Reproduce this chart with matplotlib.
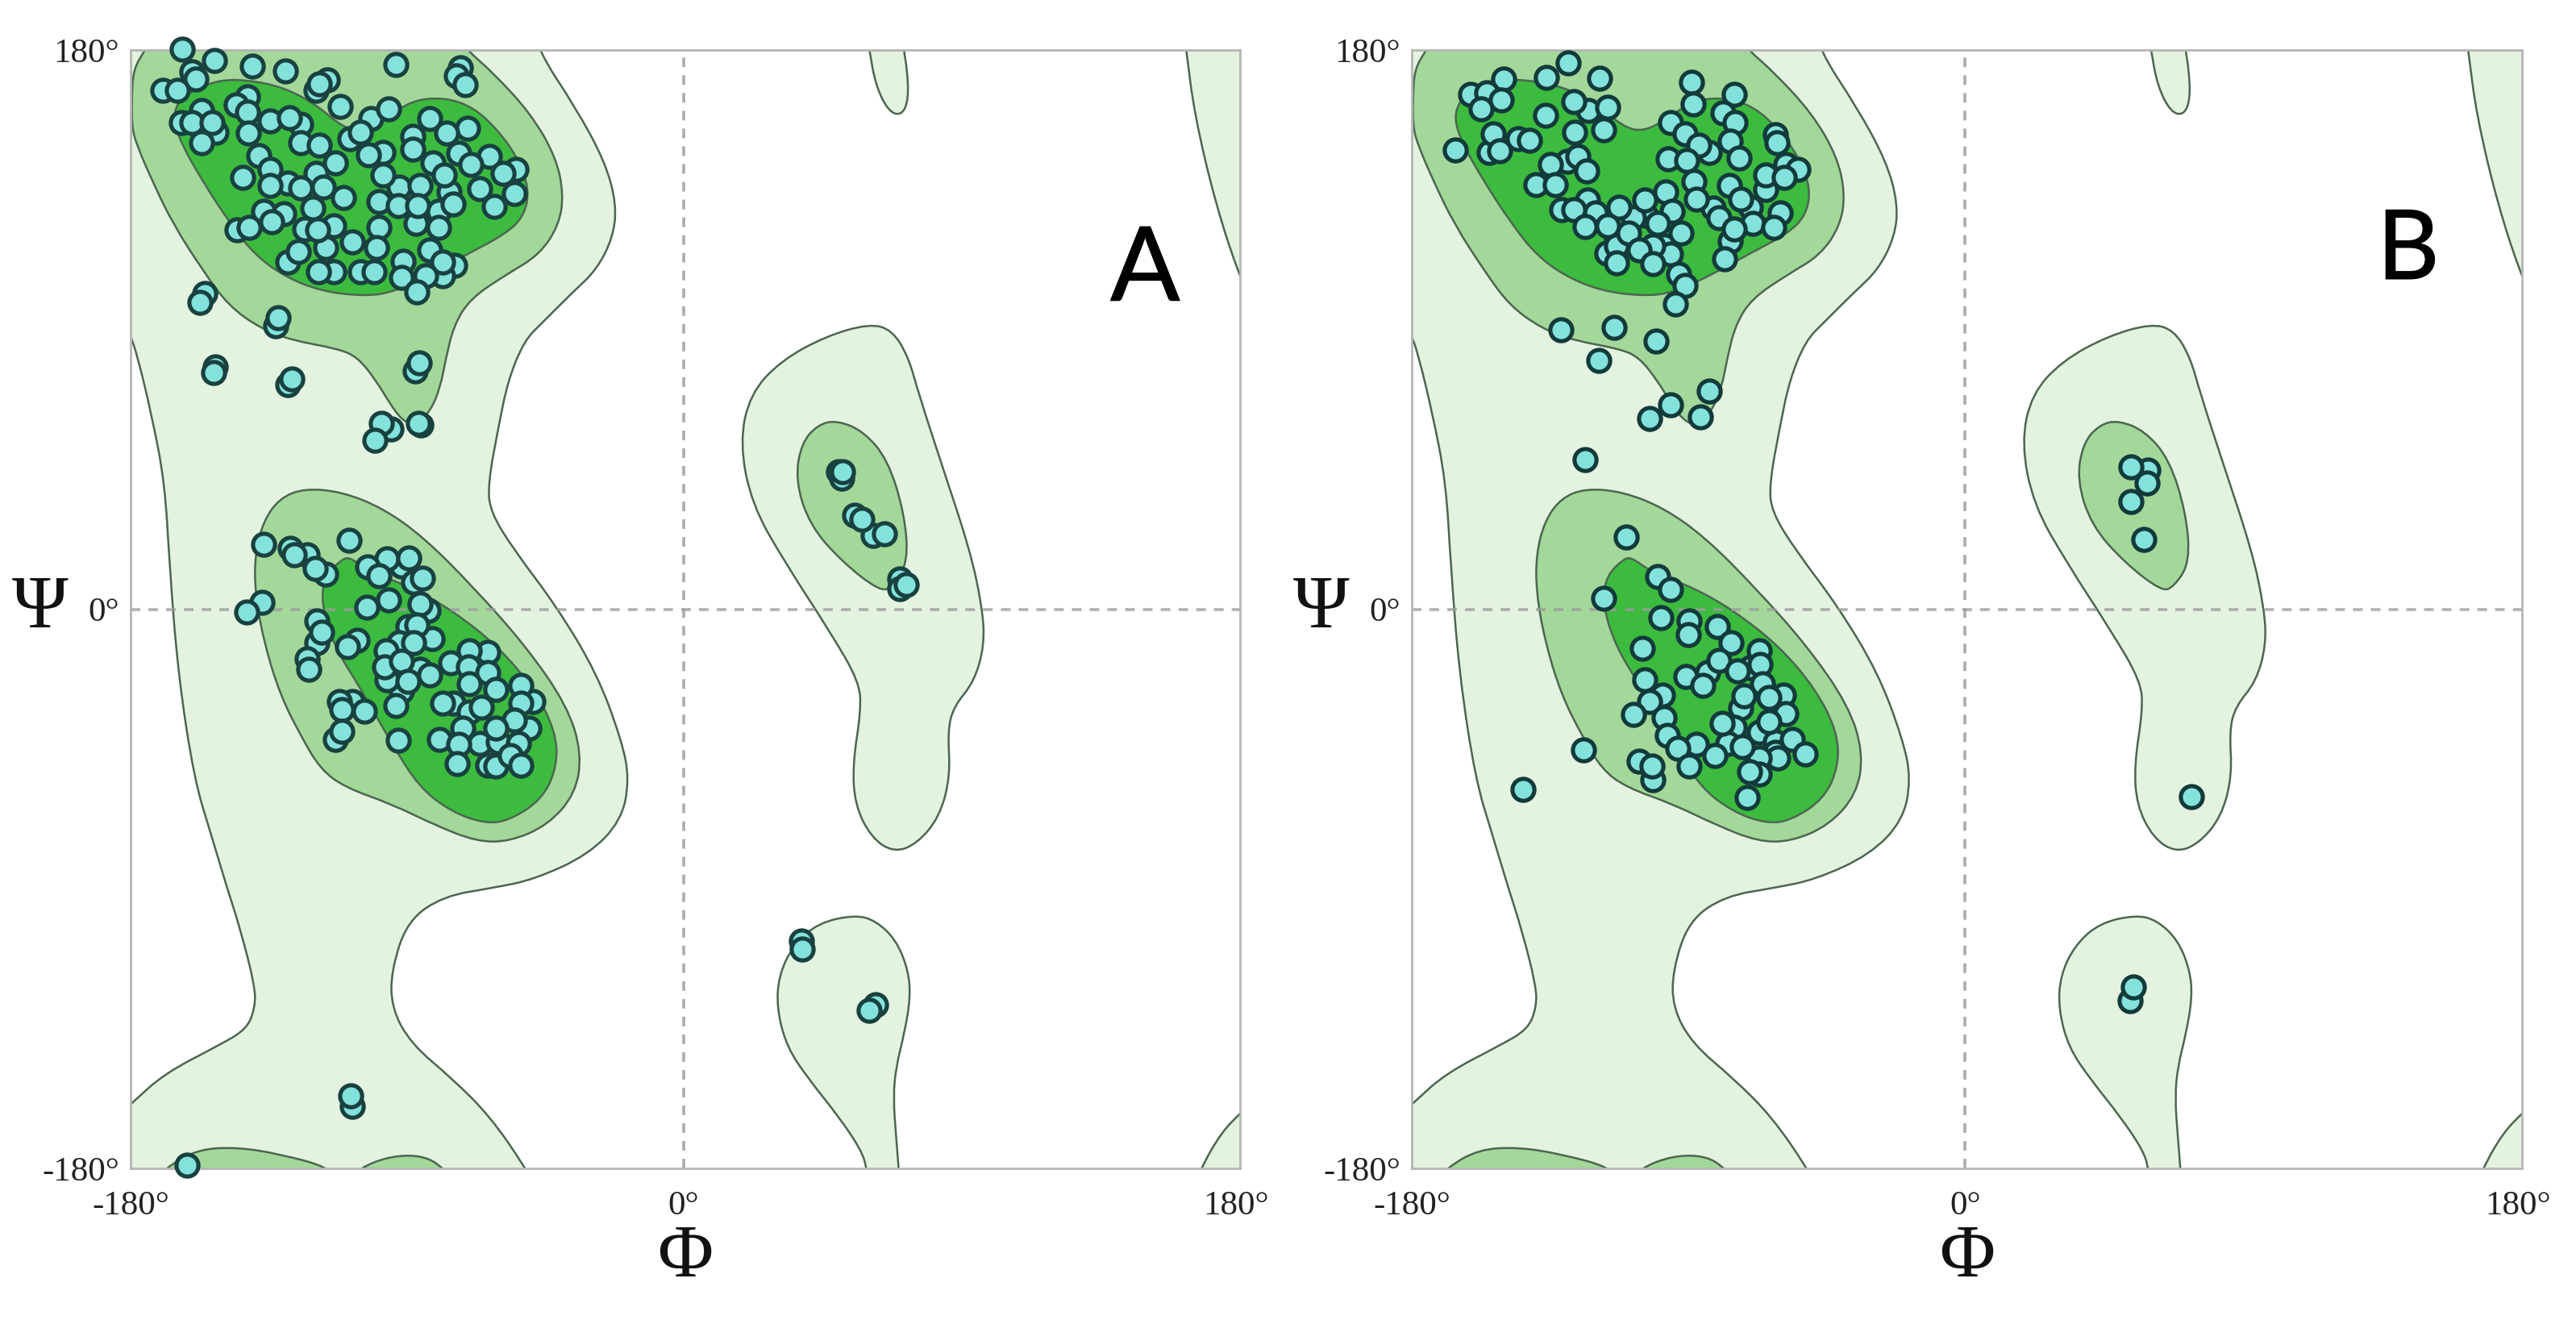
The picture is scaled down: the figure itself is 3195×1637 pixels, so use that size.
import numpy as np
import matplotlib
matplotlib.use("Agg")
import matplotlib.pyplot as plt
import matplotlib.patheffects as pe
from matplotlib.path import Path
from matplotlib.patches import PathPatch

# Ramachandran background contours, phi/psi in degrees (same in both panels)
allowed_main = [[-195,195],[-51,195],[-47.5,180],[-35.2,161.6],[-25.6,144.2],[-21.8,130.4],[-22.9,119.8],
    [-28.3,109.2],[-36.3,101.8],[-45.9,92.3],[-51.8,86.5],[-57.1,73.8],[-60.4,57.9],[-63.6,40.5],[-63,31.5],
    [-55,18.8],[-41.6,1.3],[-28.3,-20.4],[-20.2,-42],[-17.6,-54.7],[-20.2,-68],[-30.9,-79],[-48.6,-87],
    [-62,-89.7],[-78,-92.3],[-89.8,-100.2],[-95.1,-116.1],[-95.1,-128.3],[-88.7,-139.9],[-75.4,-151],
    [-63,-163.2],[-51.3,-180],[-48,-187],[-48,-195],[-195,-195],[-195,-170],[-185,-164],[-179.6,-159],
    [-168.9,-149.4],[-151.3,-140.4],[-142.2,-135.2],[-139.5,-128.3],[-139.5,-121.4],[-144.3,-102.9],
    [-148.6,-89.7],[-153.9,-72.2],[-159.3,-54.7],[-164.6,-20.4],[-167.3,14],[-168.9,41],[-173.2,62.7],
    [-177.7,81.2],[-180.2,88.6],[-183.9,95.5],[-195,105]]
allowed_mid = [[60.5,91.9],[67.9,89.9],[73.2,81.3],[76.6,69.3],[84,46.8],[93.3,19],[97.3,0.5],[98,-11.4],
    [94.7,-23.3],[88,-31.3],[86,-39.2],[86.9,-53.8],[83.3,-67],[75.9,-75.6],[68.5,-78.3],[61.2,-73.6],
    [55.8,-63],[55.1,-49.8],[57.8,-32.6],[57.2,-23.3],[47.8,-7.4],[33,15.1],[22.3,33.6],[18.3,53.5],
    [21.7,69.3],[31.7,80],[46.4,87.9]]
allowed_low = [[55.8,-98.4],[62.5,-100.2],[69.2,-106.4],[73.2,-116.2],[73.9,-125.1],[71.9,-136.6],[69.2,-147.3],
    [68.3,-157.1],[69.2,-169.5],[70.1,-180.2],[70.5,-189],[59.8,-189],[59.8,-180.2],[57.8,-174],[50.5,-163.3],
    [41.1,-151.7],[33.7,-141.1],[30.4,-128.6],[31,-118],[35.7,-108.2],[43.8,-101]]
allowed_island = [[59.4,188],[60.5,180],[62.6,168.5],[66.9,160],[71.2,159],[73.3,164.3],[72.8,173.8],[71.7,180],[71.2,188]]
allowed_topright = [[162.6,188],[163.7,180],[166.4,159],[173.4,129.9],[181.4,106],[186.7,95.5],[195,95],[195,195],[162,195]]
allowed_lowright = [[165,-190],[168.3,-180.2],[175,-168.6],[181.5,-162],[188,-156],[188,-190]]
favoured_upper = [[-171.6,195],[-171.6,186.5],[-175.3,180],[-179.1,173.8],[-179.6,164.8],[-179.6,155.3],[-178,149.4],
    [-172.7,137.3],[-166.2,124],[-156.6,109.2],[-148.1,97.6],[-137.4,90.2],[-127.2,86.5],[-112.8,83.9],[-106.1,81.2],
    [-99.9,73.3],[-95.7,66.4],[-91.9,61.1],[-87.6,59],[-82.3,63.8],[-79.1,71.7],[-77.5,80.1],[-74.8,91.3],[-69.4,100],
    [-57.7,107.7],[-47,114],[-40.6,123.5],[-39,133.6],[-41.6,145.7],[-49.7,159.5],[-62,172.7],[-70.5,180],[-76.9,187.5],[-76.9,195]]
favoured_lower = [[-123.5,38.9],[-111.2,37.8],[-97.8,32.5],[-84.4,23],[-68.4,7.1],[-51.3,-11.9],[-37.9,-31],[-33.1,-46.3],
    [-35.2,-59.5],[-44.3,-69.6],[-56.6,-74.8],[-67.3,-74.8],[-80.7,-69.6],[-95.1,-62.7],[-110.1,-57.4],[-118.1,-51.6],
    [-124.5,-41],[-131.5,-27.2],[-136.8,-9.8],[-139.5,5.6],[-139.5,17.7],[-136.8,28.3],[-131.5,35.7]]
favoured_mid = [[49.8,60.8],[58.5,57.4],[66.5,48.2],[71.9,31],[73.2,15.1],[67.9,7.1],[63.9,5.8],[51.8,15.1],[41.1,27],
    [36.4,41.6],[38.4,53.5],[43.8,59.4]]
favoured_bot1 = [[-172.1,-185],[-168.9,-180],[-158.2,-173.8],[-144.9,-173.2],[-131.5,-175.4],[-115.4,-179.6],[-112.2,-185]]
favoured_bot2 = [[-109,-185],[-105.8,-180],[-95.1,-175.9],[-84.4,-175.9],[-78,-180],[-74.8,-185]]
core_upper = [[-162,165.8],[-151.3,170.6],[-139.5,170.1],[-128.8,167.4],[-119.2,162.1],[-111.2,155.3],[-104.7,153.7],
    [-96.7,157.9],[-88.7,163.7],[-78,164.8],[-68.4,161.6],[-60.4,154.2],[-53.9,145.2],[-50.2,135.2],[-51.8,126.7],
    [-57.7,120.9],[-70,114.5],[-82.3,107.7],[-95.1,101.8],[-104.7,100.8],[-118.1,102.4],[-129.9,107.1],[-139.5,114],
    [-147.5,124],[-156.6,137.8],[-163.6,150],[-166.2,157.9],[-164.6,163.2]]
core_lower = [[-111.2,16.1],[-108.5,16.7],[-102.1,12],[-88.7,7.1],[-75.4,-0.3],[-60.4,-11.9],[-48.6,-25.7],[-41.6,-39.4],
    [-41.1,-50.5],[-45.9,-61.1],[-56.6,-68],[-64.6,-69],[-75.4,-65.3],[-86,-57.4],[-95.1,-43.1],[-104.7,-26.2],
    [-113.8,-11.9],[-118.1,2.4],[-116.5,10.9]]

# residues of panel A, the ones lying underneath first
a_back = [[-160.1,173.1],[-72.7,174.4],[-115.9,170.5],[-142,164.9],[-124.7,156.2],[-163.5,156.6],[-156.8,160.5],[-152.1,153.6],
    [-108.6,151.5],[-88.1,152.3],[-54.4,141.5],[-128.7,137.2],[-92.5,135.9],[-85.8,136.3],[-76.4,134.2],[-79.8,128.1],
    [-136.7,128.1],[-145.4,122],[-123.3,122.5],[-113.9,123.3],[-87.2,124.2],[-116.6,116.4],[-128.7,111.7],[-74.4,110.8],
    [-113.9,108.6],[-105.2,108.6],[-78.5,107.3],[-155.9,101.7],[-132.7,91.3],[-152.5,77.9],[-128.8,72.3],[-87.3,76.6],
    [-95.2,58],[-85.5,59.3],[-128,19.5],[-122.6,17.4],[-116.6,11.3],[-91.8,13.9],[-87.8,8.7],[-83.2,-0.4],[-119.3,-3.8],
    [-119.3,-10.7],[-89.8,-5.5],[-81.8,-9.4],[-92.5,-10.7],[-106.2,-9.9],[-122.6,-15.9],[-85.8,-19.4],[-82.5,-21.1],
    [-91.8,-26.3],[-96.5,-22.8],[-63.7,-13.8],[-49,-29.8],[-75.1,-30.2],[-78.5,-30.2],[-69.7,-33.2],[-50.3,-38.4],
    [-66.4,-43.2],[-60.4,-42.7],[-53.7,-43.2],[-63.7,-50.1],[-61,-50.5],[-107.9,-29.8],[-103.9,-32.8],[-111.9,-29.8],
    [-113.3,-41.9],[-107.9,-160],[38.4,-106.8],[62.5,-127.3],[50.5,44.2],[51.5,42.2],[55.8,30.3],[61.8,23.7],[70.5,9.8],[70.5,6.5]]
a_front = [[-163.1,180.2],[-152.8,176.7],[-140.3,174.8],[-129.6,173.3],[-93.6,175.2],[-158.8,170.7],[-169.5,167],[-164.8,167],
    [-74,171.8],[-71.1,168.8],[-119.6,167],[-118.6,169.2],[-111.7,161.8],[-101.9,157.9],[-96.1,161],[-82.5,157.9],[-70.4,154.7],
    [-77.1,153.2],[-145.5,162.4],[-142,160.1],[-134.7,157.1],[-128.4,158.1],[-160.1,156.6],[-153.4,156.6],[-156.8,150.2],
    [-141.8,153.2],[-124.7,150.2],[-118.6,149.3],[-105.2,153.6],[-88.1,148],[-97.9,147.1],[-102.6,146.3],[-138.3,146],
    [-134.7,141.5],[-143.4,138.9],[-113.3,143.7],[-119.6,140.2],[-81.5,143.7],[-73.1,146.7],[-63.1,145.8],[-69.1,143.2],
    [-58.8,140.2],[-78,139.8],[-97.9,139.8],[-134.7,136.3],[-124.7,135.5],[-117.3,135.9],[-66.4,135.4],[-55,133.7],
    [-110.6,132.4],[-99.2,131.1],[-92.8,129.8],[-86.5,129.8],[-75.1,130.3],[-61.7,129.6],[-120.6,129],[-130,127.2],
    [-134,124.6],[-141.4,122.9],[-119,122],[-99.2,122.9],[-79.8,122.9],[-107.9,118.1],[-99.9,116.4],[-82.5,115.6],
    [-125.3,115.1],[-91.2,112.1],[-78.5,111.7],[-118.9,108.6],[-100.6,108.6],[-91.9,106.9],[-83.8,107.3],[-86.9,102.1],
    [-157.5,98.7],[-132,93.9],[-152.9,76.1],[-127.5,74.2],[-86,79.2],[-98.4,59.7],[-100.4,54.5],[-86.4,59.7],
    [-136.7,20.8],[-108.9,22.1],[-126.7,17.4],[-120,13],[-96.5,16.1],[-89.4,16.5],[-102.8,13.5],[-99.2,10.9],[-84.9,10],
    [-85.8,1.8],[-95.9,2.9],[-103.2,0.7],[-137.1,2.2],[-142.1,-1],[-117.7,-7.3],[-86.9,-5.1],[-87.8,-10.7],[-109.3,-12],
    [-122,-19.4],[-96.8,-13.3],[-97.2,-18.5],[-91.8,-16.8],[-89.8,-23.3],[-93.6,-31],[-75.8,-17.2],[-69.7,-13.3],[-70,-18.5],
    [-63.7,-20.3],[-69.7,-24.1],[-61,-25.9],[-53,-24.6],[-53,-30.2],[-65.7,-31.5],[-55,-35.8],[-61,-38.4],[-71.8,-38.4],
    [-92.8,-42.3],[-79.4,-41.9],[-73.1,-43.6],[-56.4,-47.1],[-73.8,-49.7],[-53,-50.1],[-111.3,-32.4],[-111.3,-39.3],
    [-108.3,-156.6],[-161.5,-178.9],[38.7,-109.5],[60.5,-129],[51.8,44.2],[58.2,29],[65.5,24.3],[72.6,7.8]]

# residues of panel B
b_back = [[-160.8,165.7],[-122.6,160.5],[-145.4,151.5],[-61.7,152.8],[-83.1,147.1],[-154.8,147.1],[-129.3,144.1],[-58.4,143.2],
    [-64.8,135],[-122.9,131.6],[-131.3,128.7],[-120.2,127.7],[-81.8,129],[-69.7,129.4],[-103.9,126.8],[-107.9,125.9],
    [-69.1,124.2],[-113.3,119.4],[-97.9,116.9],[-76.4,118.6],[-116.6,114.7],[-113.3,116.9],[-95.9,114.3],[-93.2,107.8],
    [-89.8,-3.8],[-67,-13.3],[-69.7,-18.9],[-83.8,-20.3],[-98.3,-27.6],[-59,-27.6],[-73.1,-31.9],[-58.4,-33.7],[-75.1,-38],
    [-67,-39.7],[-77.1,-43.2],[-61.7,-42.7],[-61.7,-46.2],[-61,-47.9],[-67,-47.9],[-105.9,-49],[-101.6,-54.9],[-67,-53.1],
    [59.4,44.8],[53.8,-126]]
b_front = [[-129.1,175.9],[-150.1,170.7],[-136.3,171.2],[-118.9,170.9],[-88.9,169.6],[-88.5,162.7],[-75.1,165.7],[-155.7,166.2],
    [-151,164],[-157.4,161],[-127.3,163.3],[-116.2,161.7],[-136.4,159],[-95.9,156.6],[-78.7,159.7],[-74.7,156.6],[-117.5,154.2],
    [-127,153.4],[-153.4,153],[-91.2,153],[-141.6,151],[-61.3,150.2],[-86.5,149.3],[-76.4,150.6],[-151.4,147.6],[-165.9,147.7],
    [-126,145.8],[-96.5,145],[-90.5,144.5],[-73.4,145.2],[-134.9,143.1],[-123,141.1],[-54.3,141.7],[-64.8,139.8],[-58.8,138.9],
    [-139.6,136.7],[-133.3,136.7],[-88.1,137.6],[-76.7,136.5],[-97.5,134.4],[-87.4,132],[-73.1,132],[-127.3,128.7],[-104.2,131.6],
    [-112.6,129.4],[-95.2,128.1],[-60,127.7],[-99.9,124.2],[-80,125.9],[-123.7,123.1],[-116.3,123.3],[-75.1,122.5],[-62.1,122.9],
    [-92.5,121.2],[-109.5,121.2],[-101.5,116.9],[-105.9,115.6],[-113.3,111.4],[-101.5,111.2],[-78.2,112.8],[-91.2,104.1],[-94.3,98.3],
    [-131.6,90],[-114.1,90.6],[-100.6,86.3],[-119.1,80.2],[-83.2,70.3],[-95.8,65.9],[-86.1,61.9],[-102.6,61.4],[-123.6,48.2],
    [-110.3,23.3],[-99.9,10.5],[-95.9,6.4],[-117.5,3.5],[-98.9,-2.8],[-90.1,-8.1],[-80.5,-5.7],[-76.2,-10.7],[-105,-12.6],
    [-66.8,-17.7],[-80,-16.6],[-74,-19.8],[-90.9,-21.7],[-85.4,-24.4],[-104.2,-22.8],[-66,-24.1],[-102.6,-29.6],[-72,-27.9],
    [-63.7,-28.5],[-107.9,-33.8],[-97.9,-35],[-79.1,-36.7],[-63.7,-36.3],[-96.8,-40.6],[-56.1,-42],[-87.5,-43.6],[-93.4,-44.9],
    [-72.4,-44.2],[-81.5,-47.2],[-51.9,-46.6],[-101.9,-50.5],[-89.8,-50.5],[-70.1,-52.3],[-70.8,-60.5],[-124,-45.2],[-143.8,-58.1],
    [54,45.8],[59.1,40.5],[54,34.7],[58.3,22.5],[73.6,-60.4],[54.7,-121.5]]

tick_values = [-180, 0, 180]
tick_labels = ["-180°", "0°", "180°"]
x_limits = (-180, 181.2)
y_limits = (-180, 180)

LIGHT = "#e4f3df"
MEDIUM = "#a3d89a"
DARK = "#3cbb3e"
LINE = "#4c6650"


def blob(ax, pts, color):
    # closed quadratic spline through the midpoints of the outline points
    p = np.array(pts, dtype=float)
    mid = (p + np.roll(p, -1, axis=0)) / 2
    verts = [mid[-1]]
    codes = [Path.MOVETO]
    for i in range(len(p)):
        verts += [p[i], mid[i]]
        codes += [Path.CURVE3, Path.CURVE3]
    ax.add_patch(PathPatch(Path(verts, codes), facecolor=color, edgecolor=LINE, lw=1.8, zorder=2))


def panel(box, back, front, letter, letter_pos, letter_size, edge):
    ax = fig.add_axes(box)
    for pts in [allowed_main, allowed_mid, allowed_low, allowed_island, allowed_topright, allowed_lowright]:
        blob(ax, pts, LIGHT)
    for pts in [favoured_upper, favoured_lower, favoured_mid, favoured_bot1, favoured_bot2]:
        blob(ax, pts, MEDIUM)
    for pts in [core_upper, core_lower]:
        blob(ax, pts, DARK)

    ax.axhline(0, color="#9c9c9c", lw=2.6, dashes=(3.3, 2.8), alpha=0.8, zorder=3)
    ax.axvline(0, color="#9c9c9c", lw=2.6, dashes=(3.3, 2.8), alpha=0.85, zorder=3)

    for pts, z in [(back, 4), (front, 5)]:
        p = np.array(pts)
        ax.scatter(p[:, 0], p[:, 1], s=385, facecolor="#84e2dc", edgecolor=edge,
                   linewidth=3.7, clip_on=False, zorder=z)

    ax.set_xlim(x_limits)
    ax.set_ylim(y_limits)
    ax.set_xticks(tick_values)
    ax.set_xticklabels(tick_labels)
    ax.set_yticks(tick_values)
    ax.set_yticklabels(tick_labels)
    ax.tick_params(length=0, labelsize=31, labelcolor="#222222")
    ax.tick_params(axis="x", pad=20)
    ax.tick_params(axis="y", pad=10)
    for t in ax.get_xticklabels() + ax.get_yticklabels():
        t.set_fontfamily("Liberation Serif")
    for s in ax.spines.values():
        s.set_color("#b5b5b5")
        s.set_linewidth(2)
        s.set_zorder(3.5)
    ax.set_xlabel("Φ", family="Liberation Serif", fontsize=68, color="#111111", labelpad=2)
    ax.set_ylabel("Ψ", family="Liberation Serif", fontsize=68, color="#111111", rotation=0,
                  va="center", labelpad=12)
    ax.yaxis.set_label_coords(-0.0815, 0.5)
    ax.text(letter_pos[0], letter_pos[1], letter, family="Lato", fontsize=letter_size, color="black",
            ha="center", va="center", zorder=6,
            path_effects=[pe.withStroke(linewidth=0.8, foreground="black")])


fig = plt.figure(figsize=(31.95, 16.37), dpi=100, facecolor="white")
W, H = 3195, 1637
panel([162 / W, (H - 1449) / H, 1376 / W, 1387 / H], a_back, a_front, "A", (150.3, 108.7), 92, "#18413f")
panel([1751 / W, (H - 1449) / H, 1377 / W, 1387 / H], b_back, b_front, "B", (144.2, 115), 86, "#133a3a")

fig.savefig("out.png", dpi=100)
